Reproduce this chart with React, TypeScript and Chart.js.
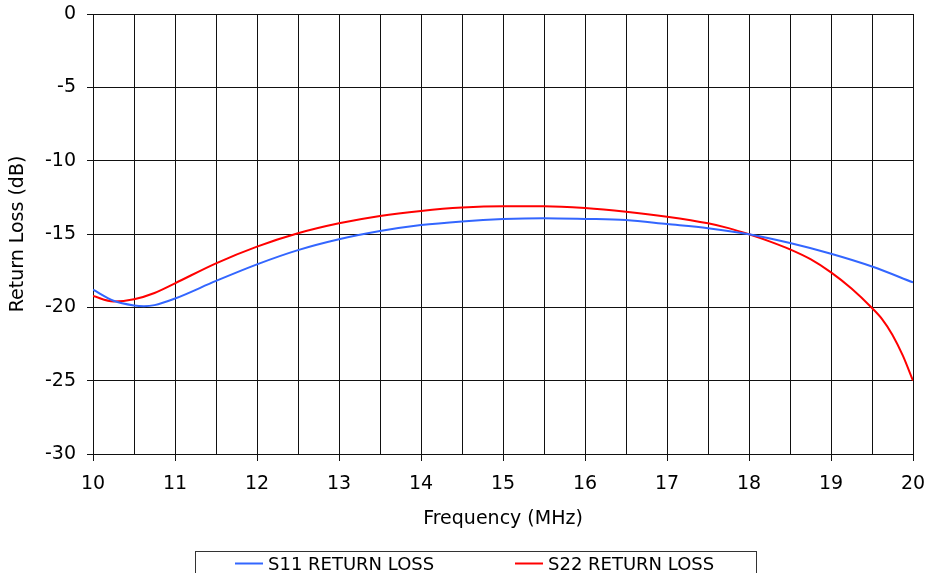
import React, { useEffect, useRef } from "react";
import { Chart, registerables } from "chart.js";

Chart.register(...registerables);

const FREQ_S11 = [10, 10.25, 10.5, 10.62, 10.75, 11, 11.5, 12, 12.5, 13, 13.5, 14, 14.5, 15, 15.5, 16, 16.5, 17, 17.5, 18, 18.5, 19, 19.5, 20];
const S11 = [-18.8, -19.55, -19.87, -19.92, -19.85, -19.4, -18.2, -17.07, -16.1, -15.36, -14.8, -14.39, -14.14, -13.98, -13.92, -13.97, -14.05, -14.32, -14.6, -15.02, -15.62, -16.35, -17.22, -18.3];

const FREQ_S22 = [10, 10.25, 10.5, 10.75, 11, 11.5, 12, 12.5, 13, 13.5, 14, 14.5, 15, 15.5, 16, 16.5, 17, 17.5, 17.75, 18, 18.25, 18.5, 18.75, 19, 19.25, 19.5, 19.625, 19.75, 19.875, 20];
const S22 = [-19.23, -19.6, -19.45, -19.02, -18.36, -17.0, -15.86, -14.95, -14.27, -13.77, -13.43, -13.2, -13.11, -13.11, -13.23, -13.48, -13.82, -14.27, -14.6, -15.02, -15.5, -16.05, -16.72, -17.62, -18.72, -20.05, -20.82, -21.88, -23.28, -25.0];

const SERIES_LABELS = ["S11 RETURN LOSS", "S22 RETURN LOSS"];
const SERIES_COLORS = ["#3366ff", "#ff0000"];

const X_MIN = 10;
const X_MAX = 20;
const X_STEP = 0.5;
const Y_MIN = -30;
const Y_MAX = 0;
const Y_STEP = 5;
const X_TITLE = "Frequency (MHz)";
const Y_TITLE = "Return Loss (dB)";

const FONT = "'DejaVu Sans', Verdana, sans-serif";

const legendPlugin = {
  id: "boxLegend",
  afterDraw(chart: any) {
    const ctx = chart.ctx;
    ctx.save();
    ctx.strokeStyle = "#333";
    ctx.lineWidth = 1;
    ctx.strokeRect(195.5, 551.5, 561, 40);
    ctx.font = "18px " + FONT;
    ctx.textBaseline = "alphabetic";
    ctx.textAlign = "left";
    const starts = [235, 515];
    chart.data.datasets.forEach((ds: any, i: number) => {
      const x0 = starts[i];
      ctx.strokeStyle = ds.borderColor;
      ctx.lineWidth = 2;
      ctx.beginPath();
      ctx.moveTo(x0, 563.5);
      ctx.lineTo(x0 + 28, 563.5);
      ctx.stroke();
      ctx.fillStyle = "#000";
      ctx.fillText(ds.label, x0 + 33, 570);
    });
    ctx.restore();
  },
};

export default function App() {
  const ref = useRef<HTMLCanvasElement | null>(null);

  useEffect(() => {
    if (!ref.current) return;
    const chart = new Chart(ref.current, {
      type: "line",
      data: {
        datasets: [
          {
            label: SERIES_LABELS[0],
            data: FREQ_S11.map((x, i) => ({ x, y: S11[i] })),
            borderColor: SERIES_COLORS[0],
            backgroundColor: SERIES_COLORS[0],
            borderWidth: 2,
            pointRadius: 0,
            cubicInterpolationMode: "monotone",
            fill: false,
          },
          {
            label: SERIES_LABELS[1],
            data: FREQ_S22.map((x, i) => ({ x, y: S22[i] })),
            borderColor: SERIES_COLORS[1],
            backgroundColor: SERIES_COLORS[1],
            borderWidth: 2,
            pointRadius: 0,
            cubicInterpolationMode: "monotone",
            fill: false,
          },
        ],
      },
      options: {
        animation: false,
        responsive: false,
        devicePixelRatio: 1,
        layout: { padding: { top: 14, right: 15, left: 0, bottom: 0 } },
        plugins: {
          legend: { display: false },
          tooltip: { enabled: false },
        },
        scales: {
          x: {
            type: "linear",
            min: X_MIN,
            max: X_MAX,
            afterFit: (s: any) => {
              s.height = 119;
              s.paddingLeft = 0;
              s.paddingRight = 0;
            },
            ticks: {
              stepSize: X_STEP,
              autoSkip: false,
              maxRotation: 0,
              padding: 12,
              color: "#000",
              font: { family: FONT, size: 19 },
              callback: (v: any) => (Number(v) % 1 === 0 ? String(v) : ""),
            },
            grid: {
              color: "#111",
              lineWidth: 1,
              tickLength: 7,
              tickColor: (c: any) => (c.tick && c.tick.value % 1 === 0 ? "#111" : "rgba(0,0,0,0)"),
            },
            border: { display: true, color: "#111", width: 1 },
            title: {
              display: true,
              text: X_TITLE,
              color: "#000",
              font: { family: FONT, size: 19 },
              padding: { top: 0, bottom: 43 },
            },
          },
          y: {
            type: "linear",
            min: Y_MIN,
            max: Y_MAX,
            afterFit: (s: any) => {
              s.width = 93;
              s.paddingTop = 0;
              s.paddingBottom = 0;
            },
            ticks: {
              stepSize: Y_STEP,
              padding: 11,
              color: "#000",
              font: { family: FONT, size: 19 },
            },
            grid: {
              color: "#111",
              lineWidth: 1,
              tickLength: 6,
              tickColor: "#111",
            },
            border: { display: true, color: "#111", width: 1 },
            title: {
              display: true,
              text: Y_TITLE,
              color: "#000",
              font: { family: FONT, size: 19 },
              padding: { top: 7, bottom: 0 },
            },
          },
        },
      },
      plugins: [legendPlugin],
    } as any);
    return () => chart.destroy();
  }, []);

  return (
    <div style={{ position: "absolute", left: 0, top: 0, width: 928, height: 573, background: "#fff" }}>
      <canvas ref={ref} width={928} height={573} style={{ width: 928, height: 573, display: "block" }} />
    </div>
  );
}
